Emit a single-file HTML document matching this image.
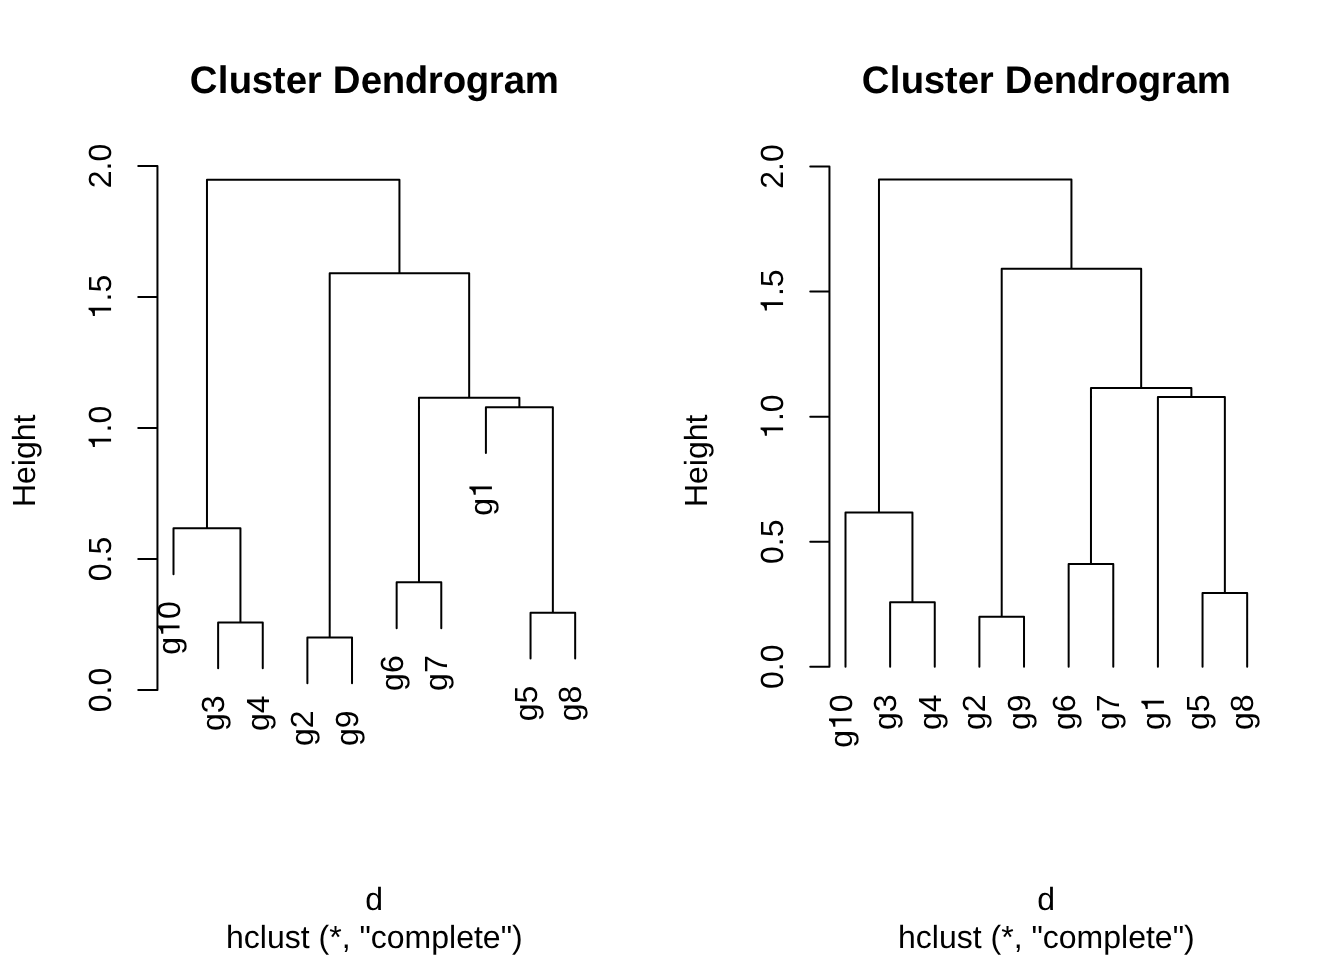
<!DOCTYPE html>
<html><head><meta charset="utf-8"><title>Cluster Dendrogram</title>
<style>
html,body{margin:0;padding:0;background:#fff;}
body{width:1344px;height:960px;overflow:hidden;}
svg{display:block;will-change:transform;filter:grayscale(1);}
text{text-rendering:geometricPrecision;font-family:"Liberation Sans",sans-serif;font-size:32px;fill:#000;}
</style></head><body>
<svg width="1344" height="960" viewBox="0 0 1344 960">
<rect width="1344" height="960" fill="#fff"/>
<g fill="none" stroke="#000" stroke-width="2" stroke-linecap="round" stroke-linejoin="round">
<path d="M218.13 668.23V622.44H262.76V668.23M173.50 574.15V528.37H240.44V622.44M307.39 683.32V637.54H352.02V683.32M396.65 628.13V582.35H441.28V628.13M530.54 658.53V612.75H575.17V658.53M485.91 453.08V407.30H552.86V612.75M418.97 582.35V397.86H519.38V407.30M329.70 637.54V273.13H469.17V397.86M206.97 528.37V179.68H399.44V273.13"/>
<path d="M157.45 690.05V165.95M157.45 690.05h-19.20M157.45 559.02h-19.20M157.45 428.00h-19.20M157.45 296.97h-19.20M157.45 165.95h-19.20"/>
<path d="M890.13 666.80V602.26H934.76V666.80M845.50 666.80V512.46H912.44V602.26M979.39 666.80V616.67H1024.02V666.80M1068.65 666.80V563.99H1113.28V666.80M1202.54 666.80V593.01H1247.17V666.80M1157.91 666.80V396.89H1224.86V593.01M1090.97 563.99V387.88H1191.38V396.89M1001.70 616.67V268.81H1141.17V387.88M878.97 512.46V179.61H1071.44V268.81"/>
<path d="M829.45 666.80V166.50M829.45 666.80h-19.20M829.45 541.72h-19.20M829.45 416.65h-19.20M829.45 291.57h-19.20M829.45 166.50h-19.20"/>
</g>
<g>
<text transform="translate(111.07 690.05) rotate(-90)" text-anchor="middle">0.0</text>
<text transform="translate(111.07 559.02) rotate(-90)" text-anchor="middle">0.5</text>
<g transform="translate(111.07 428.00) rotate(-90)"><text x="-4.45 4.45">.0</text><path transform="translate(-22.24 0) scale(0.0320 -0.0320)" d="M273 0H359V703H292C268 612 216 574 101 568V505H273Z"/></g>
<g transform="translate(111.07 296.97) rotate(-90)"><text x="-4.45 4.45">.5</text><path transform="translate(-22.24 0) scale(0.0320 -0.0320)" d="M273 0H359V703H292C268 612 216 574 101 568V505H273Z"/></g>
<text transform="translate(111.07 165.95) rotate(-90)" text-anchor="middle">2.0</text>
<g transform="translate(179.50 601.31) rotate(-90)"><text x="-53.38 -17.79">g0</text><path transform="translate(-35.58 0) scale(0.0320 -0.0320)" d="M273 0H359V703H292C268 612 216 574 101 568V505H273Z"/></g>
<text transform="translate(224.13 695.38) rotate(-90)" text-anchor="end">g3</text>
<text transform="translate(268.76 695.38) rotate(-90)" text-anchor="end">g4</text>
<text transform="translate(313.39 710.48) rotate(-90)" text-anchor="end">g2</text>
<text transform="translate(358.02 710.48) rotate(-90)" text-anchor="end">g9</text>
<text transform="translate(402.65 655.29) rotate(-90)" text-anchor="end">g6</text>
<text transform="translate(447.28 655.29) rotate(-90)" text-anchor="end">g7</text>
<g transform="translate(491.91 480.24) rotate(-90)"><text x="-35.58">g</text><path transform="translate(-17.79 0) scale(0.0320 -0.0320)" d="M273 0H359V703H292C268 612 216 574 101 568V505H273Z"/></g>
<text transform="translate(536.54 685.69) rotate(-90)" text-anchor="end">g5</text>
<text transform="translate(581.17 685.69) rotate(-90)" text-anchor="end">g8</text>
<text transform="translate(35.17 460.80) rotate(-90)" text-anchor="middle">Height</text>
<text x="374.05" y="910.40" text-anchor="middle">d</text>
<text x="374.35" y="947.80" text-anchor="middle">hclust (*, "complete")</text>
<text x="189.85 217.85 228.85 251.85 272.85 285.85 306.85 321.85 332.85 360.85 381.85 404.85 427.85 442.85 465.85 488.85 503.85 524.85" y="93.00" style="font-size:38.4px;font-weight:bold">Cluster Dendrogram</text>
<text transform="translate(783.07 666.80) rotate(-90)" text-anchor="middle">0.0</text>
<text transform="translate(783.07 541.72) rotate(-90)" text-anchor="middle">0.5</text>
<g transform="translate(783.07 416.65) rotate(-90)"><text x="-4.45 4.45">.0</text><path transform="translate(-22.24 0) scale(0.0320 -0.0320)" d="M273 0H359V703H292C268 612 216 574 101 568V505H273Z"/></g>
<g transform="translate(783.07 291.57) rotate(-90)"><text x="-4.45 4.45">.5</text><path transform="translate(-22.24 0) scale(0.0320 -0.0320)" d="M273 0H359V703H292C268 612 216 574 101 568V505H273Z"/></g>
<text transform="translate(783.07 166.50) rotate(-90)" text-anchor="middle">2.0</text>
<g transform="translate(851.50 694.46) rotate(-90)"><text x="-53.38 -17.79">g0</text><path transform="translate(-35.58 0) scale(0.0320 -0.0320)" d="M273 0H359V703H292C268 612 216 574 101 568V505H273Z"/></g>
<text transform="translate(896.13 694.46) rotate(-90)" text-anchor="end">g3</text>
<text transform="translate(940.76 694.46) rotate(-90)" text-anchor="end">g4</text>
<text transform="translate(985.39 694.46) rotate(-90)" text-anchor="end">g2</text>
<text transform="translate(1030.02 694.46) rotate(-90)" text-anchor="end">g9</text>
<text transform="translate(1074.65 694.46) rotate(-90)" text-anchor="end">g6</text>
<text transform="translate(1119.28 694.46) rotate(-90)" text-anchor="end">g7</text>
<g transform="translate(1163.91 694.46) rotate(-90)"><text x="-35.58">g</text><path transform="translate(-17.79 0) scale(0.0320 -0.0320)" d="M273 0H359V703H292C268 612 216 574 101 568V505H273Z"/></g>
<text transform="translate(1208.54 694.46) rotate(-90)" text-anchor="end">g5</text>
<text transform="translate(1253.17 694.46) rotate(-90)" text-anchor="end">g8</text>
<text transform="translate(707.17 460.80) rotate(-90)" text-anchor="middle">Height</text>
<text x="1046.05" y="910.40" text-anchor="middle">d</text>
<text x="1046.35" y="947.80" text-anchor="middle">hclust (*, "complete")</text>
<text x="861.85 889.85 900.85 923.85 944.85 957.85 978.85 993.85 1004.85 1032.85 1053.85 1076.85 1099.85 1114.85 1137.85 1160.85 1175.85 1196.85" y="93.00" style="font-size:38.4px;font-weight:bold">Cluster Dendrogram</text>
</g>
</svg>
</body></html>
